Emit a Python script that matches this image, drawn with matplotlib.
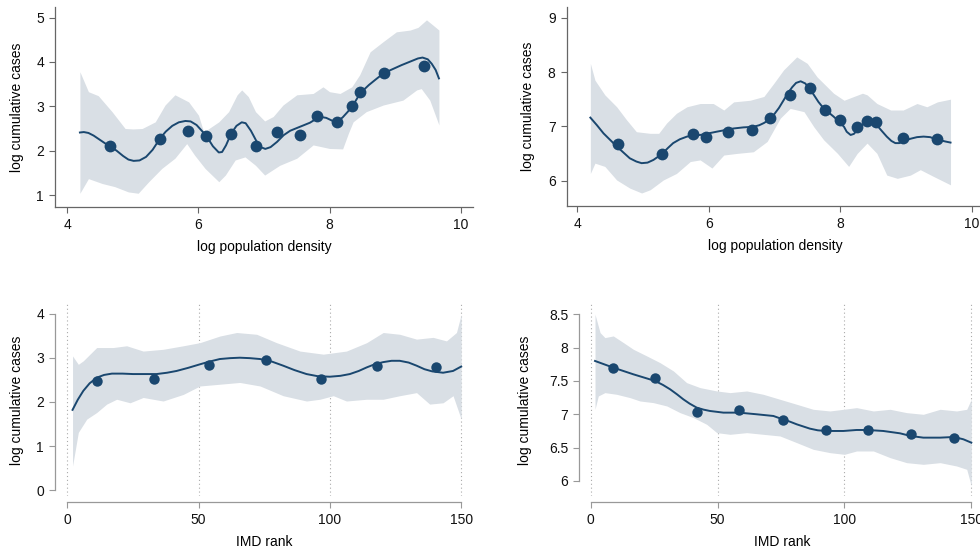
import numpy as np
import matplotlib
matplotlib.use('Agg')
import matplotlib.pyplot as plt

plt.rcParams['font.family'] = ['Liberation Sans', 'DejaVu Sans']

navy = '#1a476f'
band = '#d9dfe5'

# ---------------- top left: log density vs log cases (panel a)
tl_px = [4.65, 5.41, 5.835, 6.12, 6.49, 6.877, 7.2, 7.55, 7.81, 8.11, 8.345, 8.47, 8.83, 9.44]
tl_py = [2.10, 2.27, 2.45, 2.32, 2.38, 2.10, 2.43, 2.35, 2.78, 2.65, 3.00, 3.32, 3.745, 3.90]

tl_lx = [4.19, 4.25, 4.32, 4.4, 4.5, 4.58, 4.65, 4.75, 4.85, 4.93, 5.01, 5.1, 5.2, 5.3, 5.415,
         5.5, 5.6, 5.7, 5.8, 5.88, 5.97, 6.05, 6.13, 6.22, 6.31, 6.36, 6.42, 6.5, 6.58, 6.66,
         6.72, 6.8, 6.89, 6.95, 7.02, 7.1, 7.2, 7.3, 7.4, 7.5, 7.6, 7.7, 7.8, 7.87, 7.95,
         8.05, 8.12, 8.2, 8.28, 8.36, 8.43, 8.5, 8.6, 8.7, 8.82, 8.95, 9.1, 9.25, 9.35, 9.42,
         9.5, 9.56, 9.62, 9.67]
tl_ly = [2.41, 2.42, 2.40, 2.34, 2.24, 2.16, 2.10, 2.00, 1.88, 1.80, 1.77, 1.78, 1.86, 2.02, 2.28,
         2.43, 2.56, 2.64, 2.67, 2.66, 2.58, 2.45, 2.31, 2.10, 1.96, 1.97, 2.12, 2.39, 2.56, 2.64,
         2.62, 2.45, 2.20, 2.08, 2.04, 2.08, 2.20, 2.35, 2.45, 2.51, 2.57, 2.63, 2.72, 2.76, 2.74,
         2.67, 2.66, 2.75, 2.88, 3.03, 3.20, 3.34, 3.48, 3.60, 3.74, 3.83, 3.93, 4.02, 4.08, 4.10,
         4.06, 3.96, 3.82, 3.63]

tl_ux = [4.19, 4.32, 4.47, 4.68, 4.88, 5.0, 5.14, 5.34, 5.49, 5.64, 5.85, 6.0, 6.08, 6.31, 6.46,
         6.59, 6.66, 6.76, 6.87, 7.01, 7.14, 7.29, 7.5, 7.75, 7.9, 8.0, 8.16, 8.34, 8.46, 8.62,
         8.82, 9.02, 9.23, 9.35, 9.48, 9.58, 9.67]
tl_uy = [3.78, 3.33, 3.24, 2.88, 2.50, 2.49, 2.50, 2.65, 3.03, 3.26, 3.10, 2.80, 2.42, 2.65, 2.88,
         3.26, 3.37, 3.22, 2.88, 2.67, 2.77, 3.03, 3.26, 3.29, 3.44, 3.33, 3.29, 3.44, 3.71, 4.23,
         4.46, 4.68, 4.72, 4.78, 4.95, 4.83, 4.72]

tl_dx = [4.19, 4.32, 4.53, 4.72, 4.93, 5.08, 5.24, 5.44, 5.64, 5.82, 5.94, 6.1, 6.31, 6.41, 6.56,
         6.71, 6.87, 7.01, 7.24, 7.5, 7.75, 8.0, 8.2, 8.29, 8.36, 8.56, 8.82, 9.12, 9.33, 9.4,
         9.53, 9.67]
tl_dy = [1.04, 1.37, 1.26, 1.19, 1.07, 1.04, 1.30, 1.60, 1.83, 2.16, 1.90, 1.60, 1.30, 1.45, 1.79,
         1.86, 1.67, 1.45, 1.67, 1.83, 2.13, 2.05, 2.04, 2.40, 2.65, 2.88, 3.03, 3.14, 3.37, 3.40,
         3.14, 2.58]

# ---------------- top right (panel b)
tr_px = [4.615, 5.286, 5.76, 5.96, 6.29, 6.66, 6.94, 7.23, 7.54, 7.77, 8.0, 8.26, 8.41, 8.54, 8.95, 9.48]
tr_py = [6.675, 6.49, 6.85, 6.81, 6.90, 6.94, 7.15, 7.58, 7.71, 7.30, 7.12, 6.98, 7.10, 7.07, 6.79, 6.76]

tr_lx = [4.2, 4.3, 4.4, 4.5, 4.6, 4.7, 4.8, 4.9, 4.98, 5.07, 5.16, 5.29, 5.38, 5.46, 5.56,
         5.67, 5.77, 5.87, 6.0, 6.12, 6.25, 6.38, 6.53, 6.68, 6.77, 6.84, 6.92, 6.99, 7.07, 7.14,
         7.2, 7.27, 7.33, 7.4, 7.47, 7.53, 7.6, 7.67, 7.75, 7.83, 7.9, 7.98, 8.06, 8.1, 8.16,
         8.21, 8.26, 8.33, 8.41, 8.48, 8.56, 8.63, 8.71, 8.78, 8.84, 8.9, 8.96, 9.07, 9.17, 9.27,
         9.37, 9.44, 9.5, 9.6, 9.68]
tr_ly = [7.16, 7.02, 6.87, 6.75, 6.63, 6.52, 6.41, 6.35, 6.32, 6.33, 6.38, 6.49, 6.60, 6.69, 6.76,
         6.81, 6.83, 6.84, 6.87, 6.90, 6.93, 6.96, 6.98, 6.99, 7.02, 7.06, 7.12, 7.21, 7.34, 7.48,
         7.60, 7.72, 7.80, 7.83, 7.79, 7.70, 7.58, 7.45, 7.33, 7.25, 7.18, 7.09, 6.99, 6.90, 6.84,
         6.86, 6.93, 7.02, 7.09, 7.09, 7.02, 6.92, 6.81, 6.73, 6.69, 6.69, 6.72, 6.77, 6.80, 6.81,
         6.80, 6.77, 6.75, 6.72, 6.70]

tr_ux = [4.2, 4.27, 4.42, 4.6, 4.75, 4.9, 5.11, 5.24, 5.36, 5.51, 5.67, 5.87, 6.07, 6.23, 6.38,
         6.63, 6.84, 6.99, 7.14, 7.34, 7.5, 7.65, 7.75, 7.9, 8.06, 8.21, 8.34, 8.41, 8.56, 8.77,
         8.96, 9.17, 9.32, 9.48, 9.68]
tr_uy = [8.16, 7.85, 7.58, 7.36, 7.12, 6.90, 6.87, 6.87, 7.06, 7.24, 7.36, 7.42, 7.42, 7.30, 7.45,
         7.48, 7.55, 7.79, 8.04, 8.28, 8.16, 7.91, 7.79, 7.61, 7.48, 7.55, 7.61, 7.58, 7.42, 7.30,
         7.30, 7.42, 7.36, 7.45, 7.50]

tr_dx = [4.2, 4.27, 4.42, 4.6, 4.8, 4.98, 5.11, 5.31, 5.51, 5.72, 5.87, 6.05, 6.23, 6.43, 6.68,
         6.89, 7.09, 7.24, 7.45, 7.6, 7.75, 7.96, 8.13, 8.26, 8.41, 8.56, 8.71, 8.87, 9.07, 9.22,
         9.43, 9.58, 9.68]
tr_dy = [6.13, 6.32, 6.26, 6.01, 5.86, 5.77, 5.83, 6.01, 6.13, 6.35, 6.38, 6.23, 6.47, 6.50, 6.53,
         6.72, 7.15, 7.33, 7.27, 6.99, 6.75, 6.50, 6.26, 6.50, 6.69, 6.50, 6.10, 6.04, 6.10, 6.20,
         6.07, 5.98, 5.92]

# ---------------- bottom left: IMD rank (panel c)
bl_px = [11.3, 33.0, 54.1, 75.5, 96.8, 118.1, 140.6]
bl_py = [2.475, 2.52, 2.83, 2.94, 2.52, 2.82, 2.80]

bl_lx = [2, 4, 6.1, 8.5, 11.3, 14, 17, 21, 25, 30, 34, 38, 41.6, 46, 50.5,
         54, 58.1, 62, 65.7, 69.5, 73.4, 78, 82.2, 86.5, 91.1, 95.5, 100, 104, 107.6, 111,
         114, 117, 120.3, 123.5, 126.6, 130, 133, 136, 139, 143.1, 146.9, 150]
bl_ly = [1.82, 2.05, 2.25, 2.42, 2.55, 2.61, 2.64, 2.64, 2.63, 2.63, 2.63, 2.66, 2.70, 2.77, 2.85,
         2.91, 2.97, 2.99, 3.00, 2.99, 2.97, 2.91, 2.82, 2.72, 2.63, 2.58, 2.57, 2.59, 2.63, 2.70,
         2.78, 2.85, 2.90, 2.93, 2.93, 2.89, 2.82, 2.74, 2.69, 2.66, 2.70, 2.80]

bl_ux = [2, 4.2, 6.1, 11.2, 17.5, 22.6, 28.9, 36.5, 44.2, 50.5, 58.1, 64.5, 72.1, 79.7, 88.6,
         97.5, 106.3, 114, 120.3, 126.6, 133, 139.3, 144.4, 148.2, 150]
bl_uy = [3.04, 2.85, 2.93, 3.23, 3.23, 3.27, 3.15, 3.19, 3.27, 3.34, 3.49, 3.57, 3.53, 3.34, 3.15,
         3.08, 3.15, 3.34, 3.57, 3.53, 3.42, 3.46, 3.38, 3.57, 3.98]

bl_dx = [2, 4.2, 7.4, 11.2, 15, 18.8, 23.9, 28.9, 36.5, 44.2, 50.5, 58.1, 65.7, 73.4, 82.2,
         91.1, 96.2, 101.3, 106.3, 114, 120.3, 126.6, 133, 138, 143.1, 146.9, 150]
bl_dy = [0.55, 1.31, 1.61, 1.76, 1.95, 2.06, 1.98, 2.10, 2.02, 2.17, 2.36, 2.40, 2.44, 2.36, 2.14,
         2.02, 2.06, 2.14, 2.02, 2.06, 2.06, 2.14, 2.21, 1.95, 1.98, 2.14, 1.61]

# ---------------- bottom right (panel d)
br_px = [8.9, 25.4, 42.0, 58.5, 75.7, 92.6, 109.1, 126.1, 143.2]
br_py = [7.70, 7.54, 7.04, 7.07, 6.92, 6.76, 6.76, 6.71, 6.65]

br_lx = [1.7, 8.9, 16.8, 25.4, 28.5, 31.3, 34, 36.5, 39, 41.8, 44.5, 47.0, 52.3, 58.5, 65.5,
         72.0, 75.7, 78.5, 81.2, 84, 86.4, 89.5, 92.6, 99.6, 104.8, 109, 115.3, 121.9, 126.1, 131.1,
         137.7, 143.2, 146.9, 150]
br_ly = [7.80, 7.70, 7.60, 7.50, 7.44, 7.375, 7.30, 7.225, 7.16, 7.10, 7.07, 7.05, 7.025, 7.025, 7.00,
         6.975, 6.925, 6.89, 6.85, 6.815, 6.785, 6.76, 6.75, 6.75, 6.765, 6.765, 6.75, 6.715, 6.675, 6.65,
         6.65, 6.66, 6.625, 6.575]

br_ux = [1.7, 3.7, 5.6, 8.9, 12.9, 16.8, 22.1, 27.3, 32.6, 37.8, 43.1, 49.7, 54.9, 61.5, 68.0,
         74.6, 81.2, 87.7, 94.3, 99.6, 104.8, 111.4, 118, 124.5, 131.1, 137.7, 144.2, 148.2, 150]
br_uy = [8.50, 8.225, 8.15, 8.175, 8.075, 7.975, 7.875, 7.775, 7.65, 7.475, 7.40, 7.35, 7.325, 7.35, 7.30,
         7.225, 7.15, 7.075, 7.05, 7.075, 7.10, 7.05, 7.075, 7.025, 7.00, 7.075, 7.05, 7.075, 7.225]

br_dx = [1.7, 3.0, 5.6, 10.2, 15.5, 19.4, 24.7, 30, 35.2, 40.5, 45.7, 49.7, 54.9, 61.5, 68.0,
         74.6, 81.2, 87.7, 94.3, 100, 104.8, 111.4, 118, 124.5, 131.1, 137.7, 144.2, 148.2, 150]
br_dy = [7.075, 7.275, 7.325, 7.30, 7.25, 7.20, 7.175, 7.125, 7.025, 6.95, 6.85, 6.725, 6.70, 6.725, 6.70,
         6.675, 6.575, 6.475, 6.425, 6.40, 6.45, 6.45, 6.35, 6.275, 6.25, 6.275, 6.225, 6.175, 5.925]


W, H = 980., 552.
fig = plt.figure(figsize=(W / 100, H / 100), dpi=100)


def px_axes(left, right, top, bottom):
    return fig.add_axes([left / W, 1 - bottom / H, (right - left) / W, (bottom - top) / H])


def draw(ax, ux, uy, dx, dy, lx, ly, px, py, ms):
    # band: upper and lower read separately, put on a common x grid
    bx = np.union1d(ux, dx)
    ax.fill_between(bx, np.interp(bx, dx, dy), np.interp(bx, ux, uy),
                    color=band, lw=0, zorder=1)
    ax.plot(lx, ly, color=navy, lw=1.4, zorder=2, solid_joinstyle='round')
    ax.plot(px, py, 'o', color=navy, ms=ms, mec='none', zorder=3)


def style(ax, spine_col):
    for s in ['top', 'right']:
        ax.spines[s].set_visible(False)
    for s in ['left', 'bottom']:
        ax.spines[s].set_color(spine_col)
        ax.spines[s].set_linewidth(0.9)
    ax.tick_params(direction='out', length=4, width=0.8, color=spine_col,
                   labelsize=10, pad=4, labelcolor='#111111')


# panel a
ax1 = px_axes(55, 473, 7, 207)
draw(ax1, tl_ux, tl_uy, tl_dx, tl_dy, tl_lx, tl_ly, tl_px, tl_py, 8.5)
ax1.set_xlim(3.81, 10.19)
ax1.set_ylim(0.73, 5.24)
ax1.set_xticks([4, 6, 8, 10])
ax1.set_yticks([1, 2, 3, 4, 5])
style(ax1, '#666666')
ax1.set_xlabel('log population density', fontsize=10)
ax1.set_ylabel('log cumulative cases', fontsize=10)
ax1.xaxis.set_label_coords(0.5, -0.165)
ax1.yaxis.set_label_coords(-0.073, 0.5)

# panel b
ax2 = px_axes(566.7, 984.7, 7, 206)
draw(ax2, tr_ux, tr_uy, tr_dx, tr_dy, tr_lx, tr_ly, tr_px, tr_py, 8.5)
ax2.set_xlim(3.84, 10.2)
ax2.set_ylim(5.53, 9.2)
ax2.set_xticks([4, 6, 8, 10])
ax2.set_yticks([6, 7, 8, 9])
style(ax2, '#666666')
ax2.set_xlabel('log population density', fontsize=10)
ax2.set_ylabel('log cumulative cases', fontsize=10)
ax2.xaxis.set_label_coords(0.5, -0.165)
ax2.yaxis.set_label_coords(-0.076, 0.5)

# panel c
ax3 = px_axes(55, 473, 304, 496)
ax3.grid(axis='x', ls=(0, (1, 2.5)), color='#aaaaaa', lw=0.8, zorder=0)
draw(ax3, bl_ux, bl_uy, bl_dx, bl_dy, bl_lx, bl_ly, bl_px, bl_py, 7.5)
ax3.set_xlim(-4.68, 154.5)
ax3.set_ylim(-0.129, 4.215)
ax3.set_xticks([0, 50, 100, 150])
ax3.set_yticks([0, 1, 2, 3, 4])
style(ax3, '#999999')
ax3.spines['bottom'].set_position(('outward', 4.3))
ax3.spines['bottom'].set_bounds(0, 150)
ax3.spines['left'].set_bounds(0, 4)
ax3.set_axisbelow(True)
ax3.set_xlabel('IMD rank', fontsize=10)
ax3.set_ylabel('log cumulative cases', fontsize=10)
ax3.xaxis.set_label_coords(0.5, -0.205)
ax3.yaxis.set_label_coords(-0.073, 0.5)

# panel d
ax4 = px_axes(579.3, 985, 304, 496)
ax4.grid(axis='x', ls=(0, (1, 2.5)), color='#aaaaaa', lw=0.8, zorder=0)
draw(ax4, br_ux, br_uy, br_dx, br_dy, br_lx, br_ly, br_px, br_py, 7.5)
ax4.set_xlim(-4.49, 155.4)
ax4.set_ylim(5.775, 8.654)
ax4.set_xticks([0, 50, 100, 150])
ax4.set_yticks([6, 6.5, 7, 7.5, 8, 8.5])
ax4.set_yticklabels(['6', '6.5', '7', '7.5', '8', '8.5'])
style(ax4, '#999999')
ax4.spines['bottom'].set_position(('outward', 4.3))
ax4.spines['bottom'].set_bounds(0, 150)
ax4.spines['left'].set_bounds(6, 8.5)
ax4.set_axisbelow(True)
ax4.set_xlabel('IMD rank', fontsize=10)
ax4.set_ylabel('log cumulative cases', fontsize=10)
ax4.xaxis.set_label_coords(0.5, -0.205)
ax4.yaxis.set_label_coords(-0.116, 0.5)

fig.savefig('out.png', dpi=100)
